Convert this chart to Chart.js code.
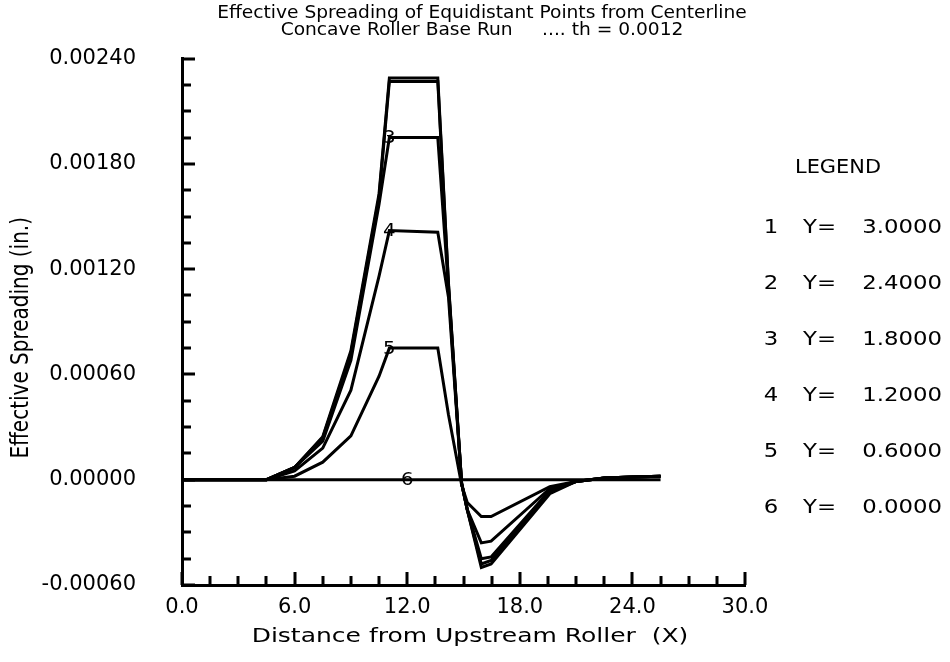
<!DOCTYPE html>
<html>
<head>
<meta charset="utf-8">
<script src="https://cdn.jsdelivr.net/npm/chart.js@4/dist/chart.umd.min.js"></script>
<style>
  html, body { margin: 0; padding: 0; background: #fff; }
  #chart { display: block; }
</style>
</head>
<body>
<canvas id="chart" width="950" height="662"></canvas>
<script>
// distance from upstream roller (X)
const xValues = [0, 1.5, 3, 4.5, 6, 7.5, 9, 10.5, 11.05, 13.63, 14.2, 14.9, 15.2, 15.95, 16.47, 19.6, 21, 22.5, 24, 25.5];

// effective spreading (in.) per line, Y = 3.0 ... 0.0
const spread1 = [0, 0, 0, 0, 0.00007, 0.000245, 0.000735, 0.00163, 0.00229, 0.00229, 0.00112, -0.00002, -0.00017, -0.00050, -0.00048, -0.00008, -0.00001, 0.00001, 0.000015, 0.00002];
const spread2 = [0, 0, 0, 0, 0.00007, 0.00024, 0.00072, 0.00161, 0.00227, 0.00227, 0.00111, -0.00002, -0.00017, -0.00048, -0.00046, -0.00007, -0.00001, 0.00001, 0.000015, 0.00002];
const spread3 = [0, 0, 0, 0, 0.00007, 0.00022, 0.00068, 0.00157, 0.00195, 0.00195, 0.00109, -0.00002, -0.00017, -0.00045, -0.00044, -0.00006, -0.00001, 0.00001, 0.000015, 0.00002];
const spread4 = [0, 0, 0, 0, 0.00005, 0.00018, 0.00051, 0.00116, 0.00142, 0.00141, 0.00104, -0.00002, -0.00017, -0.00036, -0.00035, -0.00005, -0.00001, 0.00001, 0.000015, 0.00002];
const spread5 = [0, 0, 0, 0, 0.00002, 0.00010, 0.00025, 0.00059, 0.00075, 0.00075, 0.00037, -0.00003, -0.00013, -0.00021, -0.00021, -0.00004, -0.00001, 0.00001, 0.000015, 0.00002];
const spread6 = [0, 0, 0, 0, 0, 0, 0, 0, 0, 0, 0, 0, 0, 0, 0, 0, 0, 0, 0, 0];

const lineIds = ["1", "2", "3", "4", "5", "6"];
const lineY = [3.0, 2.4, 1.8, 1.2, 0.6, 0.0];

// which lines carry a number on the plot, and at what X
const tagLines = [3, 4, 5, 6];
const tagX = [11.05, 11.05, 11.05, 12.0];

const titleLines = ["Effective Spreading of Equidistant Points from Centerline", "Concave Roller Base Run     .... th = 0.0012"];
const xTitle = "Distance from Upstream Roller  (X)";
const yTitle = "Effective Spreading (in.)";

const allSeries = [spread1, spread2, spread3, spread4, spread5, spread6];

let isStep = (v, step) => {
    let r = v / step;
    return Math.abs(r - Math.round(r)) < 1e-6;
};

let valueAt = (series, x) => {
    for (let i = 1; i < xValues.length; i++) {
        if (x <= xValues[i]) {
            let t = (x - xValues[i - 1]) / (xValues[i] - xValues[i - 1]);
            return series[i - 1] + t * (series[i] - series[i - 1]);
        }
    }
    return series[series.length - 1];
};

const font = "'DejaVu Sans', 'Noto Sans', sans-serif";
const narrow = "'DejaVu Sans Condensed', 'Liberation Sans Narrow', 'DejaVu Sans', sans-serif";
const wide = 1.2; // the old plot's lettering is a bit wider than DejaVu

// text drawn a little stretched sideways
let wideText = (ctx, text, x, y, align, sx) => {
    ctx.save();
    ctx.translate(x, y);
    ctx.scale(sx, 1);
    ctx.textAlign = align;
    ctx.fillText(text, 0, 0);
    ctx.restore();
};

// ticks on the inside of the axes, long ones where there is a label
const innerTicks = {
    id: "innerTicks",
    afterDatasetsDraw(chart) {
        const ctx = chart.ctx;
        const area = chart.chartArea;
        const xs = chart.scales.x, ys = chart.scales.y;
        ctx.save();
        ctx.strokeStyle = "#000";
        ctx.lineWidth = 3;
        ctx.beginPath();
        xs.ticks.forEach(t => {
            let px = Math.round(xs.getPixelForValue(t.value));
            let len = t.label ? 13 : 9;
            ctx.moveTo(px, area.bottom);
            ctx.lineTo(px, area.bottom - len);
        });
        ys.ticks.forEach(t => {
            let py = Math.round(ys.getPixelForValue(t.value));
            let len = t.label ? 13 : 9;
            ctx.moveTo(area.left, py);
            ctx.lineTo(area.left + len, py);
        });
        ctx.stroke();
        ctx.restore();
    }
};

// numbers written on the curves
const curveTags = {
    id: "curveTags",
    afterDatasetsDraw(chart) {
        const ctx = chart.ctx;
        const xs = chart.scales.x, ys = chart.scales.y;
        ctx.save();
        ctx.fillStyle = "#000";
        ctx.font = "18px " + font;
        ctx.textBaseline = "middle";
        tagLines.forEach((id, i) => {
            let series = allSeries[id - 1];
            let px = xs.getPixelForValue(tagX[i]);
            let py = ys.getPixelForValue(valueAt(series, tagX[i]));
            wideText(ctx, String(id), px, py + 1, "center", 1.1);
        });
        ctx.restore();
    }
};

// titles and the legend block on the right
const sideText = {
    id: "sideText",
    afterDraw(chart) {
        const ctx = chart.ctx;
        const area = chart.chartArea;
        ctx.save();
        ctx.fillStyle = "#000";
        ctx.textBaseline = "middle";

        ctx.font = "18px " + narrow;
        wideText(ctx, titleLines[0], 482, 13, "center", 1.15);
        wideText(ctx, titleLines[1], 482, 30, "center", 1.15);

        ctx.font = "20px " + font;
        wideText(ctx, xTitle, 470, 637, "center", 1.25);

        ctx.save();
        ctx.translate(22, (area.top + area.bottom) / 2 + 16);
        ctx.rotate(-Math.PI / 2);
        ctx.scale(1, wide);
        ctx.textAlign = "center";
        ctx.fillText(yTitle, 0, 0);
        ctx.restore();

        ctx.font = "19px " + font;
        wideText(ctx, "LEGEND", 838, 168, "center", 1.1);
        lineIds.forEach((id, i) => {
            let y = 228 + i * 56;
            wideText(ctx, id, 771, y, "center", wide);
            wideText(ctx, "Y=", 803, y, "left", wide);
            wideText(ctx, lineY[i].toFixed(4), 942, y, "right", wide);
        });
        ctx.restore();
    }
};

const datasets = allSeries.map((series, i) => ({
    label: lineIds[i],
    data: xValues.map((x, j) => ({ x: x, y: series[j] })),
    borderColor: "#000",
    borderWidth: 3,
    pointRadius: 0,
    tension: 0,
    fill: false
}));

const chart = new Chart("chart", {
    type: "line",
    data: { datasets: datasets },
    plugins: [innerTicks, curveTags, sideText],
    options: {
        responsive: false,
        animation: false,
        devicePixelRatio: 1,
        layout: { padding: { top: 58, right: 205, left: 0, bottom: 0 } },
        plugins: {
            legend: { display: false },
            tooltip: { enabled: false }
        },
        scales: {
            x: {
                type: "linear",
                min: 0,
                max: 30,
                afterFit: s => { s.height = 77; },
                border: { display: true, color: "#000", width: 3 },
                grid: { display: false, drawTicks: false },
                ticks: {
                    stepSize: 1.5,
                    autoSkip: false,
                    maxRotation: 0,
                    padding: 10,
                    color: "#000",
                    font: { family: font, size: 21 },
                    callback: v => isStep(v, 6) ? v.toFixed(1) : ""
                }
            },
            y: {
                type: "linear",
                min: -0.0006,
                max: 0.0024,
                afterFit: s => { s.width = 182; },
                border: { display: true, color: "#000", width: 3 },
                grid: { display: false, drawTicks: false },
                ticks: {
                    stepSize: 0.00015,
                    autoSkip: false,
                    padding: 46,
                    color: "#000",
                    font: { family: font, size: 21 },
                    callback: v => isStep(v, 0.0006) ? (Math.abs(v) < 1e-12 ? 0 : v).toFixed(5) : ""
                }
            }
        }
    }
});
</script>
</body>
</html>
